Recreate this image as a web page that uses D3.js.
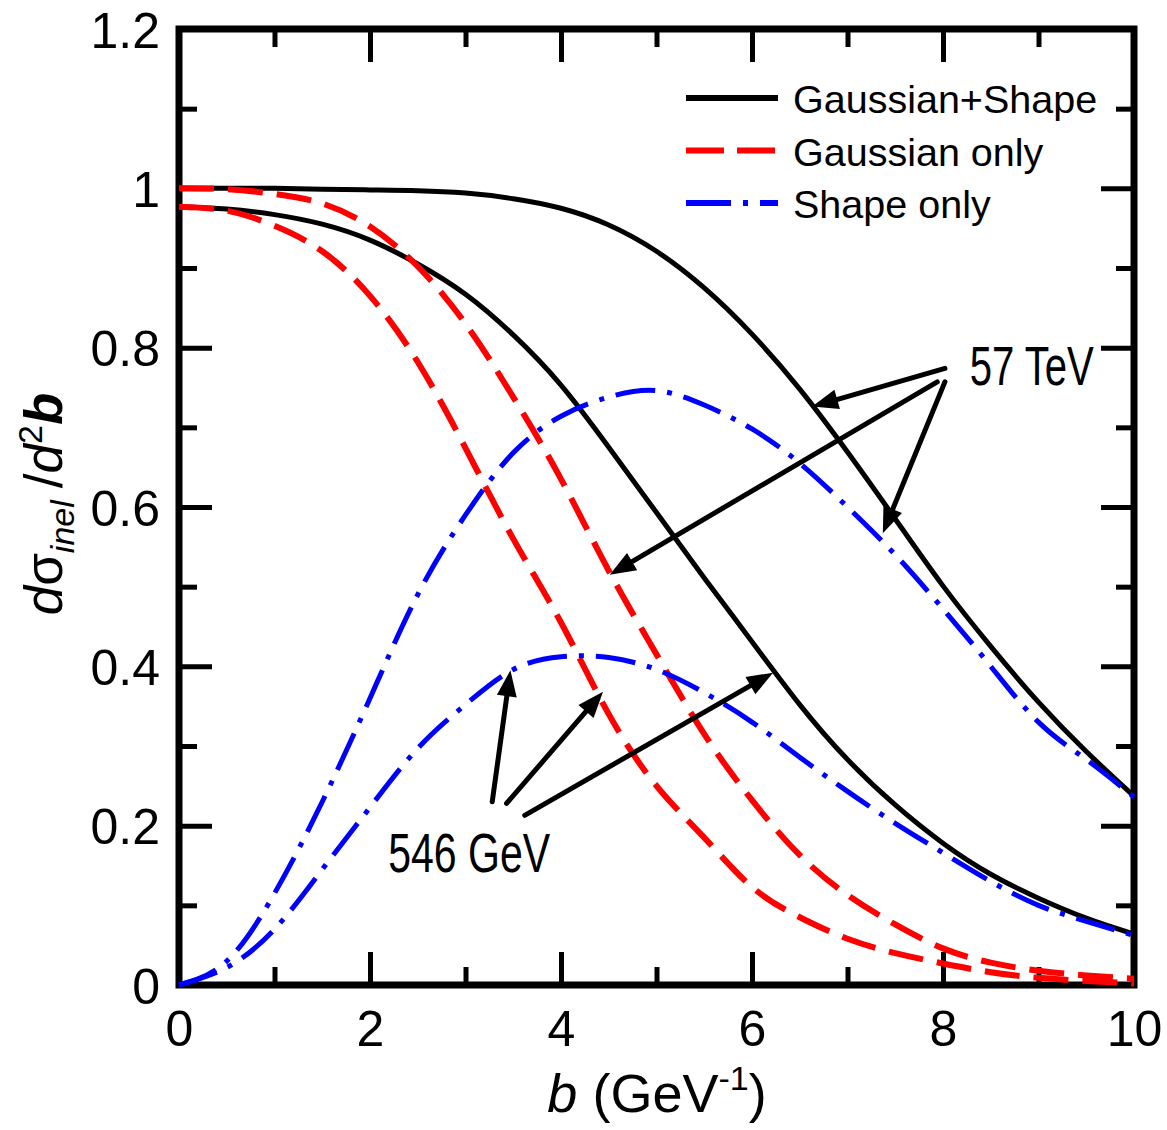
<!DOCTYPE html>
<html>
<head>
<meta charset="utf-8">
<script src="https://cdn.jsdelivr.net/npm/d3@7"></script>
<style>
  html, body { margin: 0; padding: 0; background: #fff; }
  svg { display: block; }
  text { font-family: Arial, "Liberation Sans", Helvetica, sans-serif; fill: #000; }
</style>
</head>
<body>
<svg id="chart" width="1167" height="1130"></svg>
<script>
// ---------------- data ----------------
const bValues = [0,0.5,1,1.5,2,2.5,3,3.5,4,4.5,5,5.5,6,6.5,7,7.5,8,8.5,9,9.5,10];

// 57 TeV
const tev57GaussShape = [1.000,1.000,1.000,0.999,0.998,0.997,0.994,0.987,0.975,0.954,0.921,0.875,0.817,0.748,0.669,0.585,0.501,0.425,0.355,0.293,0.237];
const tev57Gauss      = [1.000,0.999,0.993,0.981,0.952,0.902,0.830,0.738,0.635,0.520,0.415,0.315,0.232,0.163,0.113,0.076,0.046,0.028,0.018,0.012,0.008];
const tev57Shape      = [0.000,0.030,0.115,0.230,0.360,0.490,0.590,0.668,0.714,0.738,0.746,0.728,0.698,0.655,0.600,0.540,0.472,0.400,0.330,0.283,0.236];

// 546 GeV
const gev546GaussShape = [0.977,0.974,0.967,0.955,0.935,0.905,0.867,0.816,0.753,0.675,0.593,0.511,0.431,0.352,0.283,0.226,0.178,0.139,0.109,0.084,0.064];
const gev546Gauss      = [0.977,0.972,0.953,0.921,0.865,0.782,0.674,0.560,0.455,0.340,0.250,0.185,0.123,0.085,0.058,0.040,0.027,0.016,0.009,0.005,0.002];
const gev546Shape      = [0.000,0.022,0.070,0.145,0.223,0.297,0.352,0.396,0.412,0.411,0.396,0.367,0.330,0.286,0.243,0.203,0.166,0.130,0.100,0.080,0.062];

const legendLabels = ["Gaussian+Shape", "Gaussian only", "Shape only"];
const xMajorTicks = [0,2,4,6,8,10];
const xMinorTicks = [1,3,5,7,9];
const yMajorTicks = [0,0.2,0.4,0.6,0.8,1.0,1.2];
const yMinorTicks = [0.1,0.3,0.5,0.7,0.9,1.1];
const yTickLabels = ["0","0.2","0.4","0.6","0.8","1","1.2"];

// annotation arrows in data coordinates: [fromB, fromV, toB, toV]
const arrows57 = [[8.02,0.774,6.63,0.726],[7.94,0.757,4.51,0.515],[8.02,0.757,7.37,0.567]];
const arrows546 = [[3.28,0.230,3.47,0.395],[3.43,0.228,4.44,0.368],[3.62,0.213,6.22,0.392]];
const label57 = {text:"57 TeV", b:8.28, v:0.753};
const label546 = {text:"546 GeV", b:2.19, v:0.142};

// ---------------- layout ----------------
const svg = d3.select("#chart");
const L = 179, R = 1134, T = 29, B = 985;
const x = d3.scaleLinear().domain([0,10]).range([L,R]);
const y = d3.scaleLinear().domain([0,1.2]).range([B,T]);

const tickW = 5, majorLen = 33, minorLen = 18;

function styleAxis(g){
  g.select(".domain").remove();
  g.selectAll(".tick line").attr("stroke","#000").attr("stroke-width",tickW);
  g.selectAll(".tick text").attr("font-size",50).attr("fill","#000")
    .style("font-family","Arial, 'Liberation Sans', sans-serif");
}

// bottom
svg.append("g").attr("transform",`translate(0,${B})`)
  .call(d3.axisBottom(x).tickValues(xMajorTicks).tickSize(-majorLen).tickPadding(25).tickFormat(d3.format("d")))
  .call(styleAxis).call(g=>g.selectAll("text").attr("dy","0.71em"));
svg.append("g").attr("transform",`translate(0,${B})`)
  .call(d3.axisBottom(x).tickValues(xMinorTicks).tickSize(-minorLen).tickFormat(""))
  .call(styleAxis);
// top
svg.append("g").attr("transform",`translate(0,${T})`)
  .call(d3.axisTop(x).tickValues(xMajorTicks).tickSize(-majorLen).tickFormat(""))
  .call(styleAxis);
svg.append("g").attr("transform",`translate(0,${T})`)
  .call(d3.axisTop(x).tickValues(xMinorTicks).tickSize(-minorLen).tickFormat(""))
  .call(styleAxis);
// left
svg.append("g").attr("transform",`translate(${L},0)`)
  .call(d3.axisLeft(y).tickValues(yMajorTicks).tickSize(-majorLen).tickPadding(19)
        .tickFormat((d,i)=>yTickLabels[i]))
  .call(styleAxis).call(g=>g.selectAll("text").attr("dy","0.36em"));
svg.append("g").attr("transform",`translate(${L},0)`)
  .call(d3.axisLeft(y).tickValues(yMinorTicks).tickSize(-minorLen).tickFormat(""))
  .call(styleAxis);
// right
svg.append("g").attr("transform",`translate(${R},0)`)
  .call(d3.axisRight(y).tickValues(yMajorTicks).tickSize(-majorLen).tickFormat(""))
  .call(styleAxis);
svg.append("g").attr("transform",`translate(${R},0)`)
  .call(d3.axisRight(y).tickValues(yMinorTicks).tickSize(-minorLen).tickFormat(""))
  .call(styleAxis);

// frame
svg.append("rect").attr("x",L).attr("y",T).attr("width",R-L).attr("height",B-T)
  .attr("fill","none").attr("stroke","#000").attr("stroke-width",7);

// ---------------- curves ----------------
const line = d3.line().x(d=>x(d[0])).y(d=>y(d[1])).curve(d3.curveNatural);
const styles = {
  gs: {color:"#000", dash:null, width:5},
  g:  {color:"#ff0000", dash:"35,14", width:6},
  s:  {color:"#0000ff", dash:"40,12,5,12", width:5}
};
const series = [
  {vals:tev57GaussShape, st:"gs"}, {vals:gev546GaussShape, st:"gs"},
  {vals:tev57Gauss, st:"g"}, {vals:gev546Gauss, st:"g"},
  {vals:tev57Shape, st:"s"}, {vals:gev546Shape, st:"s"}
];
series.forEach(s=>{
  const st = styles[s.st];
  svg.append("path")
    .datum(bValues.map((b,i)=>[b, s.vals[i]]))
    .attr("d", line)
    .attr("fill","none")
    .attr("stroke", st.color)
    .attr("stroke-width", st.width)
    .attr("stroke-dasharray", st.dash)
    .attr("stroke-linejoin","round");
});

// ---------------- legend ----------------
const legendStyles = ["gs","g","s"];
legendLabels.forEach((lab,i)=>{
  const st = styles[legendStyles[i]];
  const yy = 98 + 52.5*i;
  svg.append("line").attr("x1",686).attr("x2",778).attr("y1",yy).attr("y2",yy)
    .attr("stroke",st.color).attr("stroke-width",6).attr("stroke-dasharray",
      st.dash ? (legendStyles[i]==="g" ? "38,13" : "45,12,5,12") : null);
  svg.append("text").attr("x",793).attr("y",yy+15).attr("font-size",39.5).text(lab);
});

// ---------------- annotations ----------------
function arrow(a){
  const x1=x(a[0]), y1=y(a[1]), x2=x(a[2]), y2=y(a[3]);
  const dx=x2-x1, dy=y2-y1, len=Math.hypot(dx,dy), ux=dx/len, uy=dy/len;
  const hl=26, hw=10;
  svg.append("line").attr("x1",x1).attr("y1",y1)
    .attr("x2",x2-ux*(hl-4)).attr("y2",y2-uy*(hl-4))
    .attr("stroke","#000").attr("stroke-width",5).attr("stroke-linecap","round");
  const bx=x2-ux*hl, by=y2-uy*hl;
  svg.append("path").attr("d",`M${x2},${y2}L${bx-uy*hw},${by+ux*hw}L${bx+uy*hw},${by-ux*hw}Z`)
    .attr("fill","#000");
}
arrows57.forEach(arrow);
arrows546.forEach(arrow);

svg.append("text").attr("x",x(label57.b)).attr("y",y(label57.v)).attr("font-size",56)
  .attr("textLength",124).attr("lengthAdjust","spacingAndGlyphs").text(label57.text);
svg.append("text").attr("x",x(label546.b)).attr("y",y(label546.v)).attr("font-size",56)
  .attr("textLength",162).attr("lengthAdjust","spacingAndGlyphs").text(label546.text);

// ---------------- axis titles ----------------
const xt = svg.append("text").attr("x",657).attr("y",1112).attr("font-size",54).attr("text-anchor","middle");
xt.append("tspan").attr("font-style","italic").text("b");
xt.append("tspan").text(" (GeV");
xt.append("tspan").attr("font-size",34).attr("dy",-22).text("-1");
xt.append("tspan").attr("dy",22).text(")");

const yt = svg.append("text").attr("transform","translate(62,504) rotate(-90)")
  .attr("font-size",53).attr("text-anchor","middle");
yt.append("tspan").attr("font-style","italic").text("d");
yt.append("tspan").text("σ");
yt.append("tspan").attr("font-style","italic").attr("font-size",34).attr("dy",12).text("inel");
yt.append("tspan").attr("dy",-12).attr("dx",12).text("/");
yt.append("tspan").attr("font-style","italic").text("d");
yt.append("tspan").attr("font-size",34).attr("dy",-20).text("2");
yt.append("tspan").attr("dy",20).attr("font-style","italic").attr("font-weight","bold").text("b");
</script>
</body>
</html>
